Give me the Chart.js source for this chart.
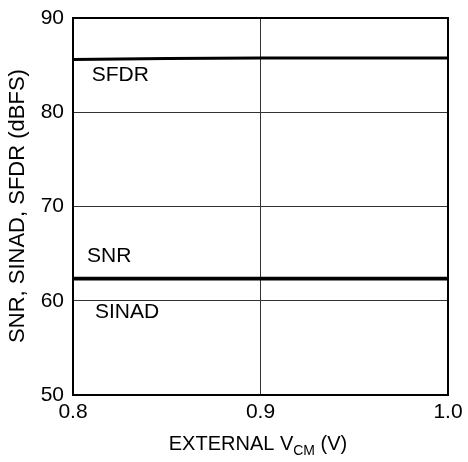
<!DOCTYPE html>
<html>
<head>
<meta charset="utf-8">
<script src="https://cdn.jsdelivr.net/npm/chart.js@4/dist/chart.umd.min.js"></script>
<style>
  html, body { margin: 0; padding: 0; background: #fff; }
  #wrap { width: 468px; height: 462px; }
</style>
</head>
<body>
<div id="wrap"><canvas id="myChart" width="468" height="462"></canvas></div>
<script>
const vcm = [0.8, 0.85, 0.9, 0.95, 1.0];
const sfdr = [85.6, 85.7, 85.75, 85.75, 85.75];
const snr = [62.4, 62.4, 62.4, 62.4, 62.4];
const sinad = [62.3, 62.3, 62.3, 62.3, 62.3];

const xTicks = [0.8, 0.9, 1.0];
const yTicks = [50, 60, 70, 80, 90];

// text labels placed in data coordinates
const labelText = ['SFDR', 'SNR', 'SINAD'];
const labelX = [0.810, 0.8075, 0.8117];
const labelY = [83.95, 64.75, 58.8];

const FONT = '"Liberation Sans", Arial, sans-serif';

const toPoints = (ys) => vcm.map((x, i) => ({ x: x, y: ys[i] }));

const extras = {
    id: 'extras',
    afterDraw(chart) {
        const ctx = chart.ctx;
        const a = chart.chartArea;
        const xs = chart.scales.x;
        const ys = chart.scales.y;
        ctx.save();
        // frame
        ctx.strokeStyle = '#000';
        ctx.lineWidth = 2;
        ctx.strokeRect(a.left, a.top, a.right - a.left, a.bottom - a.top);

        ctx.fillStyle = '#000';
        ctx.font = '21px ' + FONT;
        ctx.textBaseline = 'middle';
        ctx.textAlign = 'left';
        labelText.forEach((t, i) => {
            ctx.fillText(t, xs.getPixelForValue(labelX[i]), ys.getPixelForValue(labelY[i]));
        });

        // x title with subscript
        const main1 = 'EXTERNAL V';
        const sub = 'CM';
        const main2 = ' (V)';
        ctx.font = '20px ' + FONT;
        const w1 = ctx.measureText(main1).width;
        const w3 = ctx.measureText(main2).width;
        ctx.font = '14px ' + FONT;
        const w2 = ctx.measureText(sub).width;
        let x0 = 258 - (w1 + w2 + w3) / 2;
        const base = 450;
        ctx.textBaseline = 'alphabetic';
        ctx.font = '20px ' + FONT;
        ctx.fillText(main1, x0, base);
        ctx.font = '14px ' + FONT;
        ctx.fillText(sub, x0 + w1, base + 5);
        ctx.font = '20px ' + FONT;
        ctx.fillText(main2, x0 + w1 + w2, base);

        // y title
        ctx.translate(18, 206);
        ctx.rotate(-Math.PI / 2);
        ctx.textAlign = 'center';
        ctx.textBaseline = 'middle';
        ctx.font = '22px ' + FONT;
        ctx.fillText('SNR, SINAD, SFDR (dBFS)', 0, 0);
        ctx.restore();
    }
};

const lineStyle = {
    borderColor: '#000',
    borderWidth: 3,
    pointRadius: 0,
    fill: false,
    tension: 0
};

let ctx = document.getElementById('myChart').getContext('2d');
window.myChart = new Chart(ctx, {
    type: 'line',
    data: {
        datasets: [
            Object.assign({ label: 'SFDR', data: toPoints(sfdr) }, lineStyle),
            Object.assign({ label: 'SNR', data: toPoints(snr) }, lineStyle),
            Object.assign({ label: 'SINAD', data: toPoints(sinad) }, lineStyle)
        ]
    },
    options: {
        responsive: false,
        animation: false,
        layout: {
            padding: { left: 0, right: 20, top: 18, bottom: 0 }
        },
        scales: {
            x: {
                type: 'linear',
                min: 0.8,
                max: 1.0,
                afterBuildTicks: (axis) => { axis.ticks = xTicks.map(v => ({ value: v })); },
                afterFit: (axis) => {
                    axis.height = 67;
                    axis.paddingLeft = 0;
                    axis.paddingRight = 0;
                },
                ticks: {
                    color: '#000',
                    font: { family: FONT, size: 21 },
                    padding: 5,
                    maxRotation: 0,
                    callback: (v) => v.toFixed(1)
                },
                grid: { color: '#333', lineWidth: 1, drawTicks: false },
                border: { color: '#000', width: 2 }
            },
            y: {
                min: 50,
                max: 90,
                afterBuildTicks: (axis) => { axis.ticks = yTicks.map(v => ({ value: v })); },
                afterFit: (axis) => {
                    axis.width = 73;
                    axis.paddingTop = 0;
                    axis.paddingBottom = 0;
                },
                ticks: {
                    color: '#000',
                    font: { family: FONT, size: 21 },
                    padding: 9
                },
                grid: { color: '#333', lineWidth: 1, drawTicks: false },
                border: { color: '#000', width: 2 }
            }
        },
        plugins: {
            legend: { display: false },
            tooltip: { enabled: false }
        }
    },
    plugins: [extras]
});
</script>
</body>
</html>
